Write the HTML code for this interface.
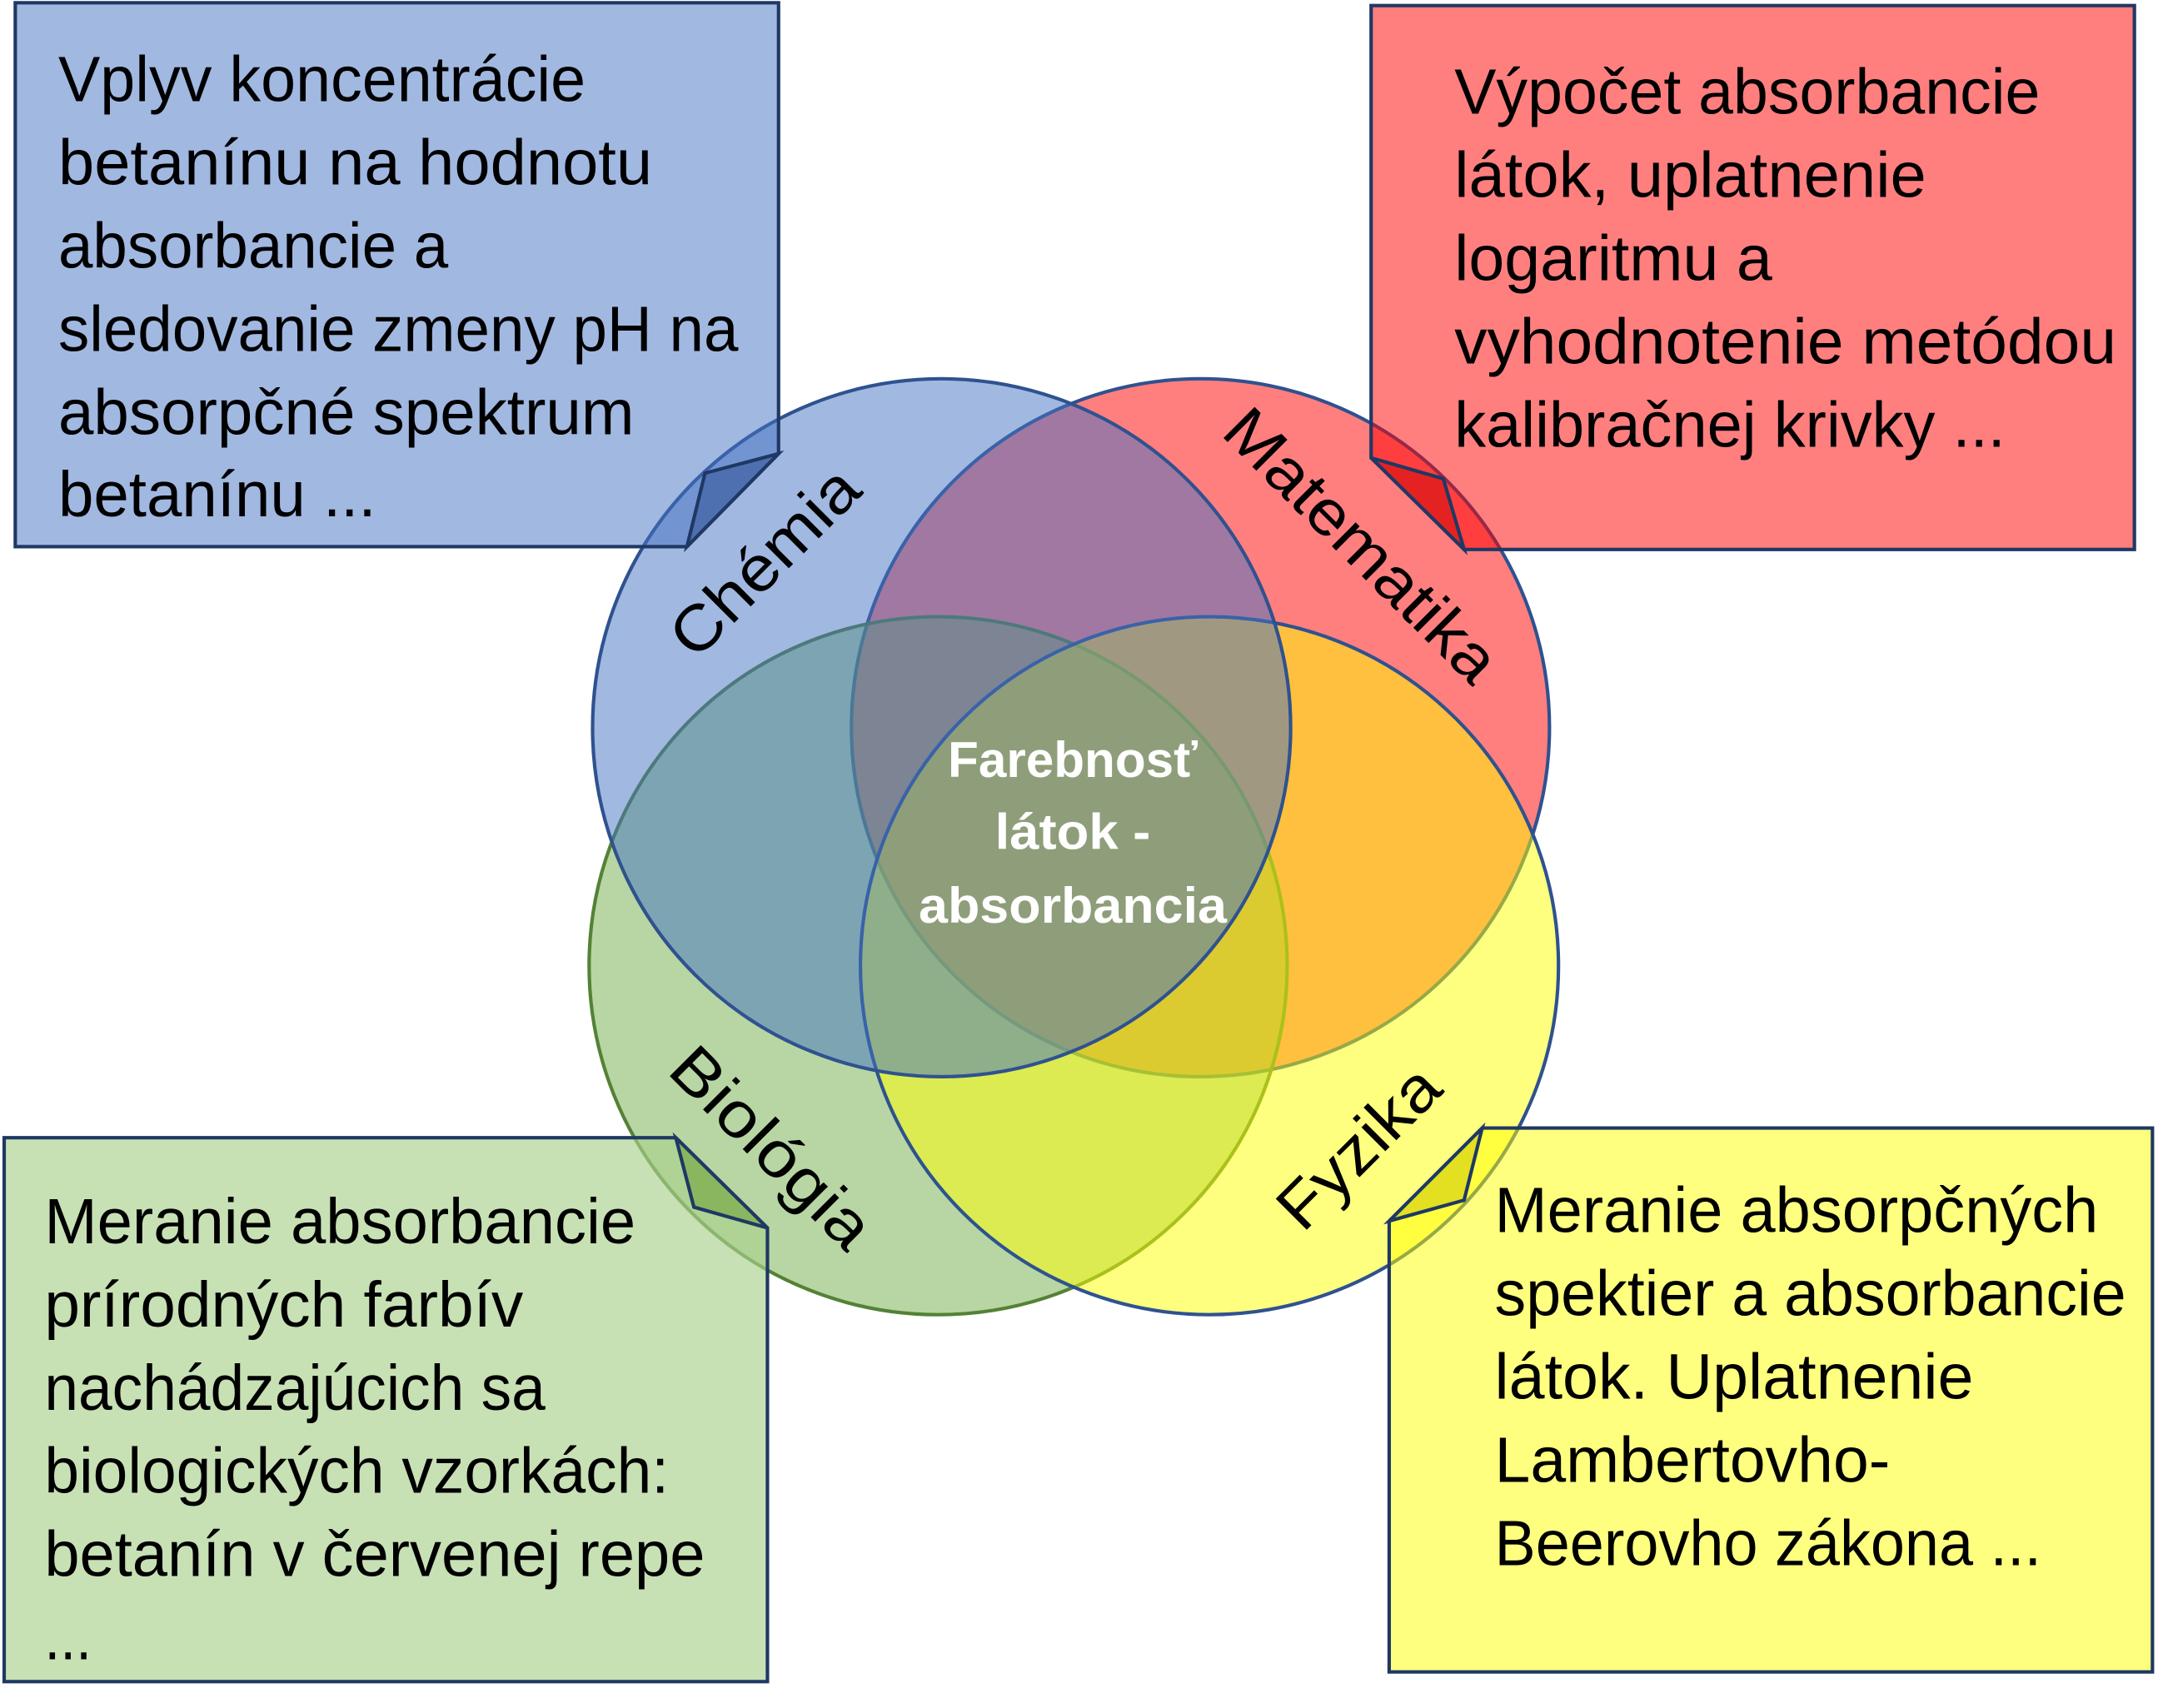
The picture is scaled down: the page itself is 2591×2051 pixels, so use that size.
<!DOCTYPE html>
<html><head><meta charset="utf-8"><style>
html,body{margin:0;padding:0;background:#fff;}
svg{display:block;}
text{font-family:"Liberation Sans Narrow","Liberation Sans",sans-serif;fill:#000;}
</style></head><body>
<svg width="2591" height="2051" viewBox="0 0 1555 1231" preserveAspectRatio="none" xmlns="http://www.w3.org/2000/svg">
<g stroke-width="2.5">
<circle cx="865" cy="524.5" r="251.5" fill="#ff0000" fill-opacity="0.5" stroke="#2f528f"/>
<circle cx="676" cy="696" r="251.5" fill="#70ad47" fill-opacity="0.5" stroke="#548235"/>
<circle cx="871.5" cy="696" r="251.5" fill="#ffff00" fill-opacity="0.5" stroke="#2f528f"/>
<circle cx="678.5" cy="524.5" r="251.5" fill="#4472c4" fill-opacity="0.5" stroke="#2f528f"/>
</g>
<g stroke="#1f3864" stroke-width="2.5" stroke-linejoin="miter">
<path d="M11,2 H561 V327 L495,394 H11 Z" fill="#4472c4" fill-opacity="0.5"/>
<path d="M561,327 L508,341 L495,394 Z" fill="#4f70b0"/>
<path d="M988,4 H1538 V396 H1055 L988,330 Z" fill="#ff0000" fill-opacity="0.5"/>
<path d="M988,330 L1040,345 L1055,396 Z" fill="#e52222"/>
<path d="M3,820 H487 L553,885 V1212 H3 Z" fill="#a9d18e" fill-opacity="0.65"/>
<path d="M487,820 L500,870 L553,885 Z" fill="#8ab660"/>
<path d="M1068,813 H1551 V1205 H1001 V880 Z" fill="#ffff00" fill-opacity="0.5"/>
<path d="M1068,813 L1055,865 L1001,880 Z" fill="#e2e020"/>
</g>
<g font-size="46">
<text x="42" y="73" textLength="380" lengthAdjust="spacingAndGlyphs">Vplyv koncentrácie</text>
<text x="42" y="133" textLength="428" lengthAdjust="spacingAndGlyphs">betanínu na hodnotu</text>
<text x="42" y="193" textLength="281" lengthAdjust="spacingAndGlyphs">absorbancie a</text>
<text x="42" y="253" textLength="490" lengthAdjust="spacingAndGlyphs">sledovanie zmeny pH na</text>
<text x="42" y="313" textLength="415" lengthAdjust="spacingAndGlyphs">absorpčné spektrum</text>
<text x="42" y="372" textLength="229" lengthAdjust="spacingAndGlyphs">betanínu ...</text>

<text x="1048" y="82" textLength="422" lengthAdjust="spacingAndGlyphs">Výpočet absorbancie</text>
<text x="1048" y="142" textLength="340" lengthAdjust="spacingAndGlyphs">látok, uplatnenie</text>
<text x="1048" y="202" textLength="229" lengthAdjust="spacingAndGlyphs">logaritmu a</text>
<text x="1048" y="262" textLength="477" lengthAdjust="spacingAndGlyphs">vyhodnotenie metódou</text>
<text x="1048" y="322" textLength="397" lengthAdjust="spacingAndGlyphs">kalibračnej krivky ...</text>

<text x="32" y="896" textLength="426" lengthAdjust="spacingAndGlyphs">Meranie absorbancie</text>
<text x="32" y="956" textLength="345" lengthAdjust="spacingAndGlyphs">prírodných farbív</text>
<text x="32" y="1016" textLength="361" lengthAdjust="spacingAndGlyphs">nachádzajúcich sa</text>
<text x="32" y="1076" textLength="450" lengthAdjust="spacingAndGlyphs">biologických vzorkách:</text>
<text x="32" y="1136" textLength="476" lengthAdjust="spacingAndGlyphs">betanín v červenej repe</text>
<text x="32" y="1196" textLength="34" lengthAdjust="spacingAndGlyphs">...</text>

<text x="1077" y="888" textLength="435" lengthAdjust="spacingAndGlyphs">Meranie absorpčných</text>
<text x="1077" y="948" textLength="455" lengthAdjust="spacingAndGlyphs">spektier a absorbancie</text>
<text x="1077" y="1008" textLength="345" lengthAdjust="spacingAndGlyphs">látok. Uplatnenie</text>
<text x="1077" y="1068" textLength="285" lengthAdjust="spacingAndGlyphs">Lambertovho-</text>
<text x="1077" y="1128" textLength="394" lengthAdjust="spacingAndGlyphs">Beerovho zákona ...</text>
</g>
<g text-anchor="middle" font-size="46">
<text transform="translate(562,416) rotate(-45)" textLength="172" lengthAdjust="spacingAndGlyphs">Chémia</text>
<text transform="translate(970,404) rotate(45)" textLength="258" lengthAdjust="spacingAndGlyphs">Matematika</text>
<text transform="translate(545,838) rotate(45)" textLength="185" lengthAdjust="spacingAndGlyphs">Biológia</text>
<text transform="translate(990,838) rotate(-45)" textLength="145" lengthAdjust="spacingAndGlyphs">Fyzika</text>
</g>
<g font-size="36" font-weight="bold" text-anchor="middle">
<text x="773" y="560" style="fill:#fff;font-family:'Liberation Sans',sans-serif" textLength="180" lengthAdjust="spacingAndGlyphs">Farebnosť</text>
<text x="773" y="612" style="fill:#fff;font-family:'Liberation Sans',sans-serif" textLength="112" lengthAdjust="spacingAndGlyphs">látok -</text>
<text x="773" y="665" style="fill:#fff;font-family:'Liberation Sans',sans-serif" textLength="222" lengthAdjust="spacingAndGlyphs">absorbancia</text>
</g>
</svg>
</body></html>
